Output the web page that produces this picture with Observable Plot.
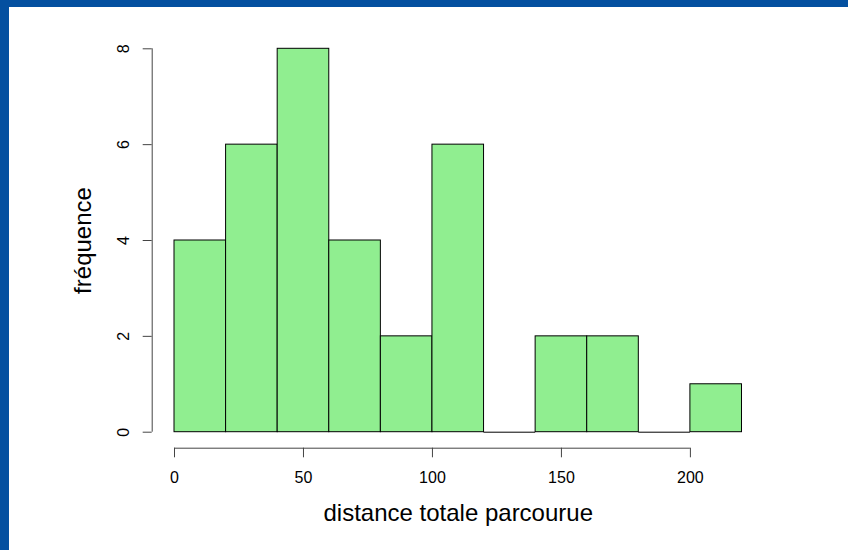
<!DOCTYPE html>
<html>
<head>
<meta charset="utf-8">
<script src="https://cdn.jsdelivr.net/npm/d3@7"></script>
<script src="https://cdn.jsdelivr.net/npm/@observablehq/plot@0.6"></script>
<style>
  html, body { margin: 0; padding: 0; background: #ffffff; }
  #frame {
    width: 839px;
    height: 543px;
    border-top: 7px solid #0450a0;
    border-left: 9px solid #0450a0;
    background: #ffffff;
    overflow: hidden;
  }
  #frame svg { display: block; }
</style>
</head>
<body>
<div id="frame"></div>
<script>
// Histogram of total distance travelled, bins of width 20
const binStarts = [0, 20, 40, 60, 80, 100, 120, 140, 160, 180, 200];
const binWidth = 20;
const counts = [4, 6, 8, 4, 2, 6, 0, 2, 2, 0, 1];
const xTicks = [0, 50, 100, 150, 200];
const yTicks = [0, 2, 4, 6, 8];
const xTitle = "distance totale parcourue";
const yTitle = "fréquence";

const bins = binStarts.map((x0, i) => ({x1: x0, x2: x0 + binWidth, count: counts[i]}));
const emptyBins = bins.filter(d => d.count === 0);
const xMid = (binStarts[0] + binStarts[binStarts.length - 1] + binWidth) / 2;
const yMid = (yTicks[0] + yTicks[yTicks.length - 1]) / 2;

const W = 839, H = 543;
const font = "'Liberation Sans', Arial, Helvetica, sans-serif";

const chart = Plot.plot({
  width: W,
  height: H,
  marginLeft: 142.7,
  marginBottom: 102.3,
  marginTop: 20,
  marginRight: 20,
  style: {fontFamily: font, color: "#000", background: "#fff"},
  x: {domain: [0, 200], range: [165, 680.9]},
  y: {domain: [0, 8], range: [424.7, 41.3]},
  marks: [
    // bars
    Plot.rect(bins, {x1: "x1", x2: "x2", y1: 0, y2: "count", fill: "#90ee90", stroke: "#000", strokeWidth: 1}),
    // empty bins still show their outline along zero
    Plot.ruleY(emptyBins, {x1: "x1", x2: "x2", y: 0, stroke: "#000", strokeWidth: 1}),
    // x axis line and ticks, offset below the bars
    Plot.ruleY([0], {x1: xTicks[0], x2: xTicks[xTicks.length - 1], dy: 16, stroke: "#444"}),
    Plot.axisX({ticks: xTicks, tickSize: 9.6, tickPadding: 13.5, fontSize: 16, label: null, stroke: "#444", tickFormat: d => String(d)}),
    // y axis line and ticks, offset left of the bars
    Plot.ruleX([0], {y1: yTicks[0], y2: yTicks[yTicks.length - 1], dx: -22.3, stroke: "#444"}),
    Plot.axisY({ticks: yTicks, tickSize: 9, label: null, stroke: "#444", tickFormat: () => ""}),
    // rotated y tick labels
    Plot.text(yTicks, {x: 0, y: d => d, text: d => String(d), rotate: -90, dx: -51, fontSize: 16, fill: "#000", textAnchor: "middle", lineAnchor: "middle"}),
    // axis titles
    Plot.text([xTitle], {x: xMid, frameAnchor: "bottom", lineAnchor: "bottom", dy: 72.3, fontSize: 24, fill: "#000", textAnchor: "middle"}),
    Plot.text([yTitle], {y: yMid, frameAnchor: "left", dx: -68.7, rotate: -90, fontSize: 24, fill: "#000", textAnchor: "middle", lineAnchor: "middle"})
  ]
});

document.getElementById("frame").appendChild(chart);
</script>
</body>
</html>
